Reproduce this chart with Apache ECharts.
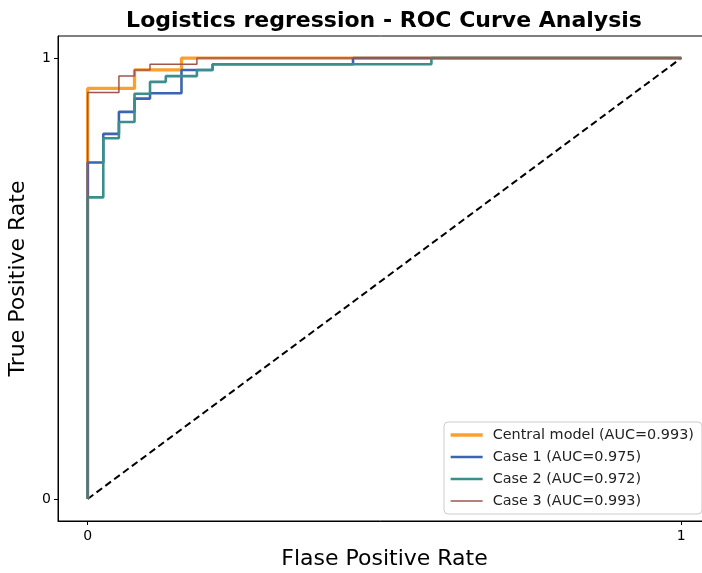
<!DOCTYPE html>
<html>
	<head>
		<meta charset="UTF-8">
		<title>ROC</title>
		<script src="https://cdn.jsdelivr.net/npm/echarts@6/dist/echarts.min.js"></script>
		<style>
			body{ margin:0; background:#fff; }
			#chart{ width:702px; height:573px; }
		</style>
	</head>
	<body>
		<div id="chart"></div>
		<script type="text/javascript">
		// ROC points (corners of the step curves)
		var centralFpr = [0, 0, 0.0789, 0.0789, 0.158, 0.158, 1];
		var centralTpr = [0, 0.931, 0.931, 0.973, 0.973, 1, 1];

		var case1Fpr = [0, 0, 0.0263, 0.0263, 0.0526, 0.0526, 0.0789, 0.0789, 0.105, 0.105, 0.158, 0.158, 0.2105, 0.2105, 0.447, 0.447, 1];
		var case1Tpr = [0, 0.763, 0.763, 0.828, 0.828, 0.878, 0.878, 0.908, 0.908, 0.920, 0.920, 0.973, 0.973, 0.986, 0.986, 1, 1];

		var case2Fpr = [0, 0, 0.0263, 0.0263, 0.0526, 0.0526, 0.0789, 0.0789, 0.105, 0.105, 0.1316, 0.1316, 0.184, 0.184, 0.2105, 0.2105, 0.579, 0.579, 1];
		var case2Tpr = [0, 0.684, 0.684, 0.818, 0.818, 0.855, 0.855, 0.919, 0.919, 0.946, 0.946, 0.959, 0.959, 0.973, 0.973, 0.986, 0.986, 1, 1];

		var case3Fpr = [0, 0, 0.0526, 0.0526, 0.0789, 0.0789, 0.105, 0.105, 0.184, 0.184, 1];
		var case3Tpr = [0, 0.922, 0.922, 0.959, 0.959, 0.973, 0.973, 0.986, 0.986, 1, 1];

		var chanceFpr = [0, 1];
		var chanceTpr = [0, 1];

		var seriesNames = ['Central model (AUC=0.993)', 'Case 1 (AUC=0.975)', 'Case 2 (AUC=0.972)', 'Case 3 (AUC=0.993)'];
		var tickValues = [0, 1];

		function pts(xs, ys){
			var out = [];
			for(var i=0;i<xs.length;i++){
				out.push([xs[i], ys[i]]);
			}
			return out;
		}

		function curve(name, xs, ys, color, width){
			return {
				name: name,
				type: 'line',
				data: pts(xs, ys),
				symbol: 'none',
				silent: true,
				lineStyle: { color: color, width: width },
				itemStyle: { color: color }
			};
		}

		var font = 'DejaVu Sans';
		var axisBase = {
			type: 'value',
			min: -0.05,
			max: 1.05,
			splitLine: { show: false },
			axisLine: { show: true, onZero: false, lineStyle: { color: '#000', width: 1 } },
			axisTick: { show: true, customValues: tickValues, length: 4, lineStyle: { color: '#000' } },
			nameLocation: 'middle',
			nameTextStyle: { fontFamily: font, fontSize: 22, color: '#000' }
		};

		var myChart = echarts.init(document.getElementById('chart'));
		myChart.setOption({
			animation: false,
			title: {
				text: 'Logistics regression - ROC Curve Analysis',
				left: 379,
				top: 5,
				textAlign: 'center',
				textStyle: { fontFamily: font, fontSize: 22, fontWeight: 'bold', color: '#000' }
			},
			grid: {
				left: 58, top: 36, width: 653, bottom: 52,
				outerBoundsMode: 'none',
				containLabel: false,
				show: true, borderColor: '#000', borderWidth: 1
			},
			legend: {
				orient: 'vertical',
				left: 444,
				top: 422,
				padding: [6, 8, 6, 5],
				itemWidth: 32,
				itemHeight: 14,
				itemGap: 8,
				backgroundColor: 'rgba(255,255,255,0.85)',
				borderColor: '#cccccc',
				borderWidth: 1,
				borderRadius: 4,
				data: seriesNames,
				lineStyle: { width: 'inherit' },
				itemStyle: { color: 'rgba(0,0,0,0)', borderColor: 'rgba(0,0,0,0)', borderWidth: 0 },
				textStyle: { fontFamily: font, fontSize: 14.4, lineHeight: 14, color: '#222', padding: [0, 0, 0, 5] }
			},
			xAxis: Object.assign({}, axisBase, {
				name: 'Flase Positive Rate',
				nameGap: 27,
				axisLabel: { customValues: tickValues, margin: 8, fontFamily: font, fontSize: 14, color: '#000' }
			}),
			yAxis: Object.assign({}, axisBase, {
				name: 'True Positive Rate',
				nameGap: 29,
				axisLabel: { customValues: tickValues, margin: 7, fontFamily: font, fontSize: 14, color: '#000' }
			}),
			series: [
				{
					name: 'chance',
					type: 'line',
					data: pts(chanceFpr, chanceTpr),
					symbol: 'none',
					silent: true,
					lineStyle: { color: '#000', width: 2, type: [7, 4] }
				},
				curve(seriesNames[0], centralFpr, centralTpr, '#fd9f2c', 3.3),
				curve(seriesNames[1], case1Fpr, case1Tpr, '#3b64b2', 2.6),
				curve(seriesNames[2], case2Fpr, case2Tpr, '#3a8e8c', 2.6),
				curve(seriesNames[3], case3Fpr, case3Tpr, '#a0564c', 1.5)
			]
		});
		</script>
	</body>
</html>
